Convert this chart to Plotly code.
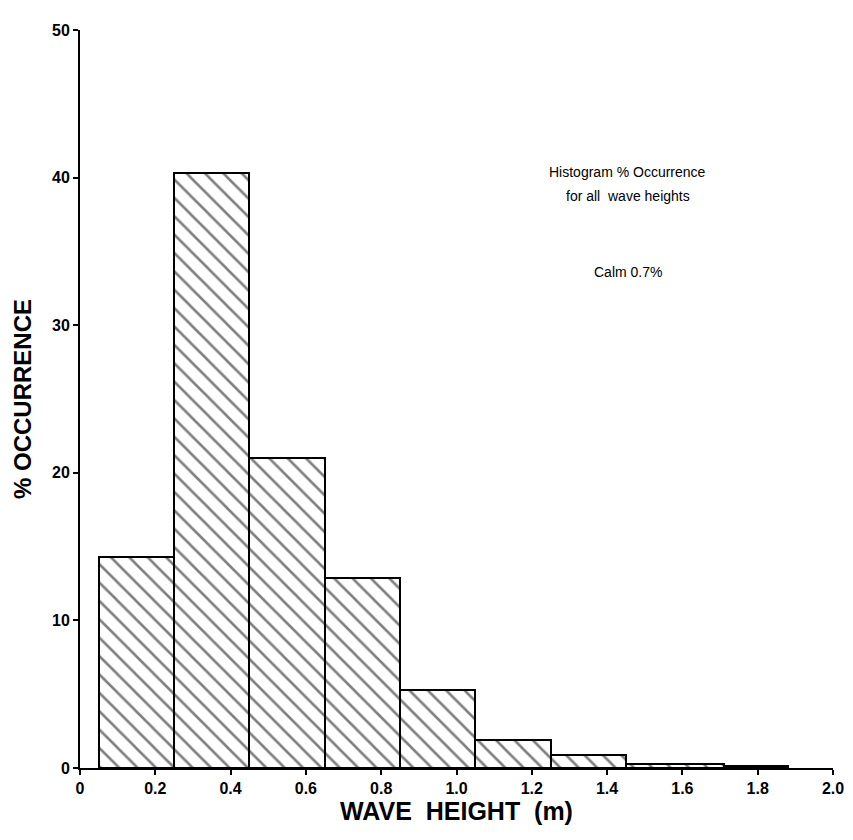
import plotly.graph_objects as go

# Histogram bins (wave height, m) and % occurrence
bin_left = [0.05, 0.25, 0.45, 0.65, 0.85, 1.05, 1.25, 1.45, 1.71]
bin_right = [0.25, 0.45, 0.65, 0.85, 1.05, 1.25, 1.45, 1.71, 1.88]
occurrence = [14.3, 40.3, 21.0, 12.9, 5.3, 1.9, 0.9, 0.25, 0.15]

x_ticks = [0, 0.2, 0.4, 0.6, 0.8, 1.0, 1.2, 1.4, 1.6, 1.8, 2.0]
x_ticktext = ["0", "0.2", "0.4", "0.6", "0.8", "1.0", "1.2", "1.4", "1.6", "1.8", "2.0"]
y_ticks = [0, 10, 20, 30, 40, 50]

centers = [(a + b) / 2 for a, b in zip(bin_left, bin_right)]
widths = [b - a for a, b in zip(bin_left, bin_right)]

fig = go.Figure()
fig.add_trace(go.Bar(
    x=centers,
    y=occurrence,
    width=widths,
    marker=dict(
        color="white",
        line=dict(color="black", width=2),
        pattern=dict(shape="\\", fgcolor="black", bgcolor="white", size=13, solidity=0.2),
    ),
    showlegend=False,
))

font_family = "Liberation Sans, Arial, Helvetica, sans-serif"

fig.update_layout(
    width=837,
    height=824,
    margin=dict(l=72, r=12, t=22, b=64, autoexpand=False),
    paper_bgcolor="white",
    plot_bgcolor="white",
    bargap=0,
    font=dict(family=font_family, color="black"),
    xaxis=dict(
        range=[0, 2.0],
        tickvals=x_ticks,
        ticktext=x_ticktext,
        ticks="outside",
        ticklen=5,
        tickwidth=2,
        tickcolor="black",
        showline=True,
        linecolor="black",
        linewidth=2,
        showgrid=False,
        zeroline=False,
        automargin=False,
        tickfont=dict(size=16, family=font_family, weight="bold"),
        title=dict(text="WAVE  HEIGHT  (m)", font=dict(size=25, family=font_family, weight="bold"), standoff=2),
    ),
    yaxis=dict(
        range=[0, 50],
        tickvals=y_ticks,
        ticks="outside",
        ticklen=5,
        tickwidth=2,
        tickcolor="black",
        showline=True,
        linecolor="black",
        linewidth=2,
        showgrid=False,
        zeroline=False,
        automargin=False,
        tickfont=dict(size=16, family=font_family, weight="bold"),
        title=dict(text="% OCCURRENCE", font=dict(size=24, family=font_family, weight="bold"), standoff=14),
    ),
    annotations=[
        dict(x=1.455, y=40.4, xref="x", yref="y", showarrow=False,
             text="Histogram % Occurrence", font=dict(size=14, family=font_family)),
        dict(x=1.455, y=38.75, xref="x", yref="y", showarrow=False,
             text="for all  wave heights", font=dict(size=14, family=font_family)),
        dict(x=1.455, y=33.6, xref="x", yref="y", showarrow=False,
             text="Calm 0.7%", font=dict(size=14, family=font_family)),
    ],
)

fig.write_html("out.html")
